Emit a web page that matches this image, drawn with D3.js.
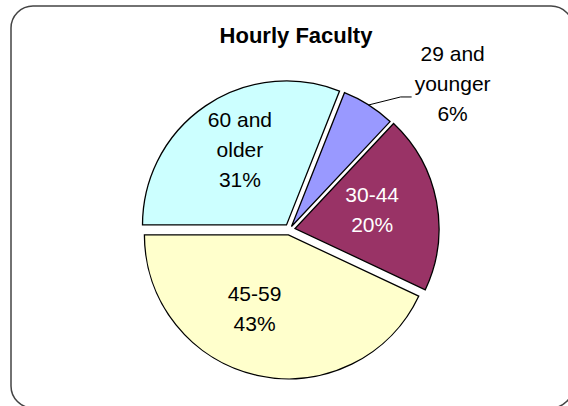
<!DOCTYPE html>
<html>
<head>
<meta charset="utf-8">
<script src="https://cdn.jsdelivr.net/npm/d3@7"></script>
<style>
  body { margin: 0; background: #fff; }
  text { font-family: "Liberation Sans", Arial, sans-serif; }
</style>
</head>
<body>
<script>
var categories = ["29 and younger", "30-44", "45-59", "60 and older"];
var values = [6, 20, 43, 31];
var labelLines = [["29 and", "younger", "6%"], ["30-44", "20%"], ["45-59", "43%"], ["60 and", "older", "31%"]];
var colors = ["#9999FF", "#993366", "#FFFFCC", "#CCFFFF"];

var width = 568, height = 406;
var cx = 289.6, cy = 229.5, radius = 144;
var explode = [3.5, 5.5, 5.5, 5.5];

var svg = d3.select("body").append("svg")
    .attr("width", width)
    .attr("height", height);

svg.append("rect")
    .attr("x", 11).attr("y", 6)
    .attr("width", 562).attr("height", 402)
    .attr("rx", 22).attr("ry", 22)
    .attr("fill", "#fff")
    .attr("stroke", "#444")
    .attr("stroke-width", 1.5);

svg.append("text")
    .attr("x", 296).attr("y", 43)
    .attr("text-anchor", "middle")
    .attr("font-size", 22)
    .attr("font-weight", "bold")
    .text("Hourly Faculty");

// last slice (60 and older) starts at 9 o'clock
var total = d3.sum(values);
var start = -Math.PI / 2 + 2 * Math.PI * values[3] / total;
var pie = d3.pie().sort(null).startAngle(start).endAngle(start + 2 * Math.PI);
var arcs = pie(values);
var arc = d3.arc().innerRadius(0).outerRadius(radius);

function mid(d) { return (d.startAngle + d.endAngle) / 2; }

var g = svg.append("g").attr("transform", "translate(" + cx + "," + cy + ")");

g.selectAll(".slice")
  .data(arcs)
  .enter().append("path")
  .attr("class", "slice")
  .attr("transform", function(d, i) {
      var a = mid(d);
      return "translate(" + (explode[i] * Math.sin(a)) + "," + (-explode[i] * Math.cos(a)) + ")";
  })
  .attr("d", arc)
  .attr("fill", function(d, i) { return colors[i]; })
  .attr("stroke", "#000")
  .attr("stroke-width", 1.3);

// inside label placement: radius and angle shift (radians) per slice
var labelR = [0, 85, 86, 94];
var labelShift = [0, -0.05, 0.2, 0.04];
var lineH = 30;

arcs.forEach(function(d, i) {
    var lines = labelLines[i];
    var x, y, fill = i === 1 ? "#fff" : "#000";
    if (i === 0) {
        var a = mid(d);
        var ex = explode[i] * Math.sin(a), ey = -explode[i] * Math.cos(a);
        var p0 = [ex + radius * Math.sin(a), ey - radius * Math.cos(a)];
        g.append("polyline")
          .attr("points", [p0, [p0[0] + 32, p0[1] - 8], [p0[0] + 43, p0[1] - 8]].join(" "))
          .attr("fill", "none")
          .attr("stroke", "#000")
          .attr("stroke-width", 1);
        x = p0[0] + 84; y = p0[1] - 8 - 5.5;
    } else {
        var a2 = mid(d) + labelShift[i];
        x = labelR[i] * Math.sin(a2);
        y = -labelR[i] * Math.cos(a2) - (lines.length - 1) * lineH / 2 + 7.5;
    }
    var t = g.append("text")
        .attr("text-anchor", "middle")
        .attr("font-size", 21)
        .attr("fill", fill);
    lines.forEach(function(s, k) {
        t.append("tspan")
          .attr("x", x)
          .attr("y", i === 0 ? y + (k - 1) * lineH : y + k * lineH)
          .text(s);
    });
});
</script>
</body>
</html>
